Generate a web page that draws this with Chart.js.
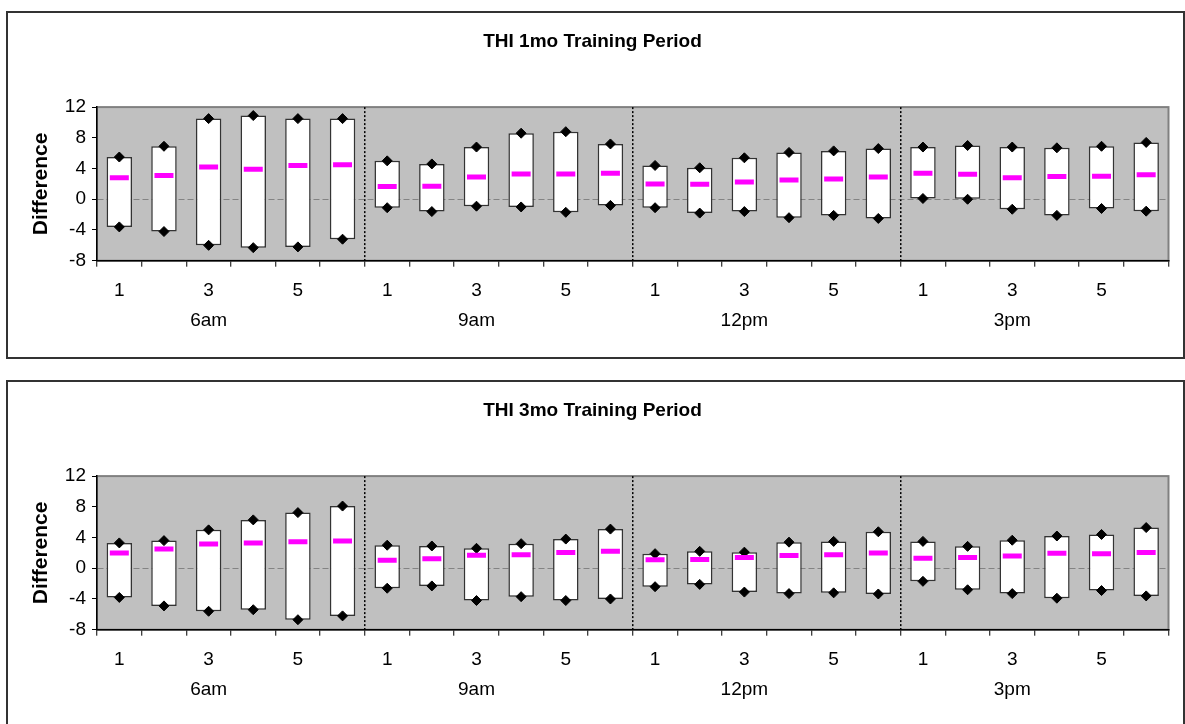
<!DOCTYPE html>
<html>
<head>
<meta charset="utf-8">
<script src="https://cdn.jsdelivr.net/npm/chart.js@4"></script>
<style>
    body { margin: 0; background: #fff; }
    .box {
        position: absolute;
        left: 6px;
        width: 1179px;
        height: 348px;
        border: 2px solid #333;
        box-sizing: border-box;
        background: #fff;
    }
    .box canvas { display: block; }
</style>
</head>
<body>
<div class="box" style="top: 11px"><canvas id="chart-1mo" width="1175" height="344"></canvas></div>
<div class="box" style="top: 380px"><canvas id="chart-3mo" width="1175" height="344"></canvas></div>

<script>
const horas = ['6am', '9am', '12pm', '3pm']
const periodos = ['1', '2', '3', '4', '5', '6']
const ticksY = [-8, -4, 0, 4, 8, 12]

// THI 1mo
const maximos1mo = [5.5, 6.9, 10.5, 10.9, 10.5, 10.5, 5.0, 4.6, 6.8, 8.6, 8.8, 7.2, 4.4, 4.1, 5.4, 6.1, 6.3, 6.6, 6.8, 7.0, 6.8, 6.7, 6.9, 7.4]
const minimos1mo = [-3.6, -4.2, -6.0, -6.3, -6.2, -5.2, -1.1, -1.6, -0.9, -1.0, -1.7, -0.8, -1.1, -1.8, -1.6, -2.4, -2.1, -2.5, 0.1, 0.0, -1.3, -2.1, -1.2, -1.55]
const medias1mo = [2.8, 3.1, 4.2, 3.9, 4.4, 4.5, 1.65, 1.7, 2.9, 3.3, 3.3, 3.4, 2.0, 1.95, 2.25, 2.5, 2.65, 2.9, 3.4, 3.25, 2.8, 2.95, 3.0, 3.2]

// THI 3mo
const maximos3mo = [3.3, 3.6, 5.0, 6.3, 7.25, 8.1, 3.0, 2.9, 2.6, 3.2, 3.8, 5.1, 1.9, 2.2, 2.1, 3.4, 3.5, 4.75, 3.5, 2.85, 3.65, 4.2, 4.4, 5.3]
const minimos3mo = [-3.8, -4.9, -5.6, -5.4, -6.7, -6.2, -2.6, -2.3, -4.2, -3.7, -4.2, -4.0, -2.4, -2.1, -3.1, -3.3, -3.2, -3.35, -1.7, -2.8, -3.3, -3.9, -2.9, -3.6]
const medias3mo = [2.0, 2.5, 3.15, 3.3, 3.45, 3.55, 1.05, 1.25, 1.7, 1.75, 2.05, 2.2, 1.1, 1.15, 1.4, 1.65, 1.75, 2.0, 1.3, 1.4, 1.6, 1.95, 1.9, 2.05]

const labels = horas.flatMap(h => periodos.map(p => `${h} ${p}`))

Chart.defaults.font.family = '"Liberation Sans", Arial, sans-serif'
Chart.defaults.color = '#000'

// fondo gris del area de trazado
const fondoGris = {
    id: 'fondoGris',
    beforeDraw: (chart) => {
        const { ctx, chartArea: a } = chart
        ctx.save()
        ctx.fillStyle = '#c0c0c0'
        ctx.fillRect(a.left, a.top, a.width, a.height)
        ctx.strokeStyle = '#808080'
        ctx.lineWidth = 2
        ctx.strokeRect(a.left, a.top, a.width, a.height)
        ctx.restore()
    }
}

const etiquetaX = (value, index) => {
    const p = index % periodos.length
    const texto = (p % 2 === 0) ? periodos[p] : ''
    if (p === 2) return [texto, horas[Math.floor(index / periodos.length)]]
    return texto
}

const renderGrafico = (canvas, titulo, maximos, minimos, medias) => {
    const data = {
        labels: labels,
        datasets: [
            {
                type: 'line',
                data: maximos,
                showLine: false,
                pointStyle: 'rectRot',
                pointRadius: 5,
                backgroundColor: '#000',
                borderColor: '#000',
                borderWidth: 1,
                order: 1
            },
            {
                type: 'line',
                data: minimos,
                showLine: false,
                pointStyle: 'rectRot',
                pointRadius: 5,
                backgroundColor: '#000',
                borderColor: '#000',
                borderWidth: 1,
                order: 1
            },
            {
                type: 'line',
                data: medias,
                showLine: false,
                pointStyle: 'line',
                pointRadius: 9.5,
                borderColor: '#ff00ff',
                borderWidth: 5,
                order: 0
            },
            {
                type: 'bar',
                data: minimos.map((m, i) => [m, maximos[i]]),
                backgroundColor: '#fff',
                borderColor: '#333',
                borderWidth: 1.5,
                borderSkipped: false,
                barPercentage: 0.57,
                categoryPercentage: 1,
                order: 2
            }
        ]
    }

    const config = {
        type: 'bar',
        data: data,
        options: {
            responsive: false,
            animation: false,
            events: [],
            layout: { padding: { left: 0, right: 6, top: 0, bottom: 0 } },
            plugins: {
                legend: { display: false },
                tooltip: { enabled: false },
                title: {
                    display: true,
                    text: titulo,
                    font: { size: 19, weight: 'bold' },
                    padding: { top: 17, bottom: 54.3 }
                }
            },
            scales: {
                x: {
                    offset: true,
                    grid: {
                        offset: true,
                        color: (ctx) => (ctx.index > 0 && ctx.index < labels.length && ctx.index % periodos.length === 0) ? '#000' : 'transparent',
                        lineWidth: 1.5,
                        tickColor: '#000',
                        tickLength: 6,
                        tickWidth: 1
                    },
                    border: { color: '#000', width: 1.5, dash: [2, 2] },
                    ticks: {
                        autoSkip: false,
                        maxRotation: 0,
                        padding: 9,
                        font: { size: 19, lineHeight: '30px' },
                        callback: etiquetaX
                    },
                    afterFit: (scale) => { scale.height = 96.3 }
                },
                y: {
                    min: ticksY[0],
                    max: ticksY[ticksY.length - 1],
                    z: 1,
                    afterBuildTicks: (scale) => { scale.ticks = ticksY.map(v => ({ value: v })) },
                    grid: {
                        color: (ctx) => (ctx.tick && ctx.tick.value === 0) ? 'rgba(80,80,80,0.55)' : 'transparent',
                        lineWidth: 1,
                        tickColor: '#000',
                        tickLength: 5,
                        tickWidth: 1
                    },
                    border: { color: '#000', width: 1.5, dash: [6, 3] },
                    ticks: { padding: 6, font: { size: 19 } },
                    title: {
                        display: true,
                        text: 'Difference',
                        font: { size: 21, weight: 'bold' },
                        padding: { top: 21, bottom: 0 }
                    },
                    afterFit: (scale) => { scale.width = 89 }
                }
            }
        },
        plugins: [fondoGris]
    }

    new Chart(canvas, config)
}

renderGrafico(document.querySelector('#chart-1mo'), 'THI 1mo Training Period', maximos1mo, minimos1mo, medias1mo)
renderGrafico(document.querySelector('#chart-3mo'), 'THI 3mo Training Period', maximos3mo, minimos3mo, medias3mo)
</script>
</body>
</html>
